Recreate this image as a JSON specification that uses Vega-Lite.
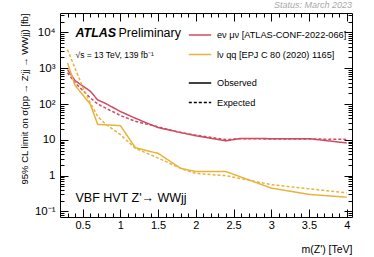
{
  "$schema": "https://vega.github.io/schema/vega-lite/v6.json",
  "width": 292,
  "height": 204,
  "autosize": {"type": "none"},
  "padding": {"left": 60, "top": 13, "right": 22, "bottom": 40},
  "title": {"text": "Status: March 2023", "anchor": "end", "frame": "group", "fontSize": 9, "fontStyle": "italic", "fontWeight": "normal", "color": "#a8a8a8", "offset": 3, "font": "Liberation Sans"},
  "config": {
    "font": "Liberation Sans",
    "view": {"stroke": "black", "strokeWidth": 1},
    "axis": {"grid": false, "domain": false, "tickColor": "black", "tickWidth": 1, "labelColor": "black", "titleColor": "black", "titleFontWeight": "normal", "labelFont": "Liberation Sans", "titleFont": "Liberation Sans"},
    "legend": {"padding": 0}
  },
  "datasets": {
    "limits": [
      {"m": 0.3, "limit": 920, "channel": "eν μν [ATLAS-CONF-2022-066]", "type": "Observed"},
      {"m": 0.4, "limit": 450, "channel": "eν μν [ATLAS-CONF-2022-066]", "type": "Observed"},
      {"m": 0.6, "limit": 230, "channel": "eν μν [ATLAS-CONF-2022-066]", "type": "Observed"},
      {"m": 0.7, "limit": 130, "channel": "eν μν [ATLAS-CONF-2022-066]", "type": "Observed"},
      {"m": 0.8, "limit": 105, "channel": "eν μν [ATLAS-CONF-2022-066]", "type": "Observed"},
      {"m": 1.0, "limit": 62, "channel": "eν μν [ATLAS-CONF-2022-066]", "type": "Observed"},
      {"m": 1.2, "limit": 40, "channel": "eν μν [ATLAS-CONF-2022-066]", "type": "Observed"},
      {"m": 1.5, "limit": 22, "channel": "eν μν [ATLAS-CONF-2022-066]", "type": "Observed"},
      {"m": 1.8, "limit": 16, "channel": "eν μν [ATLAS-CONF-2022-066]", "type": "Observed"},
      {"m": 2.0, "limit": 13, "channel": "eν μν [ATLAS-CONF-2022-066]", "type": "Observed"},
      {"m": 2.4, "limit": 9.4, "channel": "eν μν [ATLAS-CONF-2022-066]", "type": "Observed"},
      {"m": 2.6, "limit": 11, "channel": "eν μν [ATLAS-CONF-2022-066]", "type": "Observed"},
      {"m": 3.0, "limit": 10.8, "channel": "eν μν [ATLAS-CONF-2022-066]", "type": "Observed"},
      {"m": 3.5, "limit": 10.8, "channel": "eν μν [ATLAS-CONF-2022-066]", "type": "Observed"},
      {"m": 4.0, "limit": 8.2, "channel": "eν μν [ATLAS-CONF-2022-066]", "type": "Observed"},
      {"m": 0.3, "limit": 750, "channel": "eν μν [ATLAS-CONF-2022-066]", "type": "Expected"},
      {"m": 0.4, "limit": 390, "channel": "eν μν [ATLAS-CONF-2022-066]", "type": "Expected"},
      {"m": 0.6, "limit": 150, "channel": "eν μν [ATLAS-CONF-2022-066]", "type": "Expected"},
      {"m": 0.7, "limit": 100, "channel": "eν μν [ATLAS-CONF-2022-066]", "type": "Expected"},
      {"m": 0.8, "limit": 78, "channel": "eν μν [ATLAS-CONF-2022-066]", "type": "Expected"},
      {"m": 1.0, "limit": 48, "channel": "eν μν [ATLAS-CONF-2022-066]", "type": "Expected"},
      {"m": 1.2, "limit": 33, "channel": "eν μν [ATLAS-CONF-2022-066]", "type": "Expected"},
      {"m": 1.5, "limit": 23, "channel": "eν μν [ATLAS-CONF-2022-066]", "type": "Expected"},
      {"m": 1.8, "limit": 16, "channel": "eν μν [ATLAS-CONF-2022-066]", "type": "Expected"},
      {"m": 2.0, "limit": 13.5, "channel": "eν μν [ATLAS-CONF-2022-066]", "type": "Expected"},
      {"m": 2.4, "limit": 10.2, "channel": "eν μν [ATLAS-CONF-2022-066]", "type": "Expected"},
      {"m": 2.6, "limit": 10.8, "channel": "eν μν [ATLAS-CONF-2022-066]", "type": "Expected"},
      {"m": 3.0, "limit": 10.6, "channel": "eν μν [ATLAS-CONF-2022-066]", "type": "Expected"},
      {"m": 3.5, "limit": 10.6, "channel": "eν μν [ATLAS-CONF-2022-066]", "type": "Expected"},
      {"m": 4.0, "limit": 10.3, "channel": "eν μν [ATLAS-CONF-2022-066]", "type": "Expected"},
      {"m": 0.3, "limit": 1400, "channel": "lν qq [EPJ C 80 (2020) 1165]", "type": "Observed"},
      {"m": 0.4, "limit": 330, "channel": "lν qq [EPJ C 80 (2020) 1165]", "type": "Observed"},
      {"m": 0.6, "limit": 100, "channel": "lν qq [EPJ C 80 (2020) 1165]", "type": "Observed"},
      {"m": 0.7, "limit": 27, "channel": "lν qq [EPJ C 80 (2020) 1165]", "type": "Observed"},
      {"m": 1.0, "limit": 25, "channel": "lν qq [EPJ C 80 (2020) 1165]", "type": "Observed"},
      {"m": 1.2, "limit": 6.0, "channel": "lν qq [EPJ C 80 (2020) 1165]", "type": "Observed"},
      {"m": 1.5, "limit": 4.2, "channel": "lν qq [EPJ C 80 (2020) 1165]", "type": "Observed"},
      {"m": 1.8, "limit": 1.6, "channel": "lν qq [EPJ C 80 (2020) 1165]", "type": "Observed"},
      {"m": 2.0, "limit": 1.3, "channel": "lν qq [EPJ C 80 (2020) 1165]", "type": "Observed"},
      {"m": 2.4, "limit": 1.3, "channel": "lν qq [EPJ C 80 (2020) 1165]", "type": "Observed"},
      {"m": 3.0, "limit": 0.45, "channel": "lν qq [EPJ C 80 (2020) 1165]", "type": "Observed"},
      {"m": 3.5, "limit": 0.3, "channel": "lν qq [EPJ C 80 (2020) 1165]", "type": "Observed"},
      {"m": 4.0, "limit": 0.25, "channel": "lν qq [EPJ C 80 (2020) 1165]", "type": "Observed"},
      {"m": 0.3, "limit": 3300, "channel": "lν qq [EPJ C 80 (2020) 1165]", "type": "Expected"},
      {"m": 0.5, "limit": 300, "channel": "lν qq [EPJ C 80 (2020) 1165]", "type": "Expected"},
      {"m": 0.6, "limit": 110, "channel": "lν qq [EPJ C 80 (2020) 1165]", "type": "Expected"},
      {"m": 0.7, "limit": 45, "channel": "lν qq [EPJ C 80 (2020) 1165]", "type": "Expected"},
      {"m": 0.8, "limit": 28, "channel": "lν qq [EPJ C 80 (2020) 1165]", "type": "Expected"},
      {"m": 1.0, "limit": 14, "channel": "lν qq [EPJ C 80 (2020) 1165]", "type": "Expected"},
      {"m": 1.2, "limit": 5.8, "channel": "lν qq [EPJ C 80 (2020) 1165]", "type": "Expected"},
      {"m": 1.5, "limit": 3.1, "channel": "lν qq [EPJ C 80 (2020) 1165]", "type": "Expected"},
      {"m": 1.8, "limit": 1.6, "channel": "lν qq [EPJ C 80 (2020) 1165]", "type": "Expected"},
      {"m": 2.0, "limit": 1.15, "channel": "lν qq [EPJ C 80 (2020) 1165]", "type": "Expected"},
      {"m": 2.4, "limit": 1.0, "channel": "lν qq [EPJ C 80 (2020) 1165]", "type": "Expected"},
      {"m": 3.0, "limit": 0.56, "channel": "lν qq [EPJ C 80 (2020) 1165]", "type": "Expected"},
      {"m": 3.5, "limit": 0.43, "channel": "lν qq [EPJ C 80 (2020) 1165]", "type": "Expected"},
      {"m": 4.0, "limit": 0.33, "channel": "lν qq [EPJ C 80 (2020) 1165]", "type": "Expected"}
    ]
  },
  "data": {"name": "limits"},
  "layer": [
    {
      "mark": {"type": "line", "strokeWidth": 1.5},
      "encoding": {
        "x": {"field": "m", "type": "quantitative", "scale": {"domain": [0.2, 4.07], "nice": false, "zero": false},
              "axis": {"orient": "bottom", "values": [0.5, 1, 1.5, 2, 2.5, 3, 3.5, 4], "format": ".2~f", "tickSize": -8, "labelFontSize": 11, "labelPadding": 10, "labelFlush": false, "title": "m(Z') [TeV]", "titleAnchor": "end", "titleFontSize": 10.5, "titleY": 27, "titleBaseline": "top"}},
        "y": {"field": "limit", "type": "quantitative", "scale": {"type": "log", "domain": [0.07, 35000], "nice": false},
              "axis": {"orient": "left", "values": [0.1, 1, 10, 100, 1000, 10000], "labelExpr": "datum.value < 0.5 ? '10⁻¹' : datum.value < 5 ? '1' : datum.value < 50 ? '10' : datum.value < 500 ? '10²' : datum.value < 5000 ? '10³' : '10⁴'", "tickSize": -8, "labelFontSize": 11.5, "labelPadding": 13, "title": "95% CL limit on σ(pp → Z'jj → WWjj) [fb]", "titleAnchor": "end", "titleFontSize": 9.5, "titleX": -31, "titleBaseline": "bottom"}},
        "color": {"field": "channel", "type": "nominal", "scale": {"domain": ["eν μν [ATLAS-CONF-2022-066]", "lν qq [EPJ C 80 (2020) 1165]"], "range": ["#d14a5f", "#e8b33c"]},
                  "legend": {"orient": "none", "legendX": 128, "legendY": 10, "title": null, "symbolType": "stroke", "symbolSize": 500, "symbolStrokeWidth": 1.5, "labelFontSize": 9.2, "labelOffset": 5, "rowPadding": 1.5, "labelColor": "black"}},
        "strokeDash": {"field": "type", "type": "nominal", "scale": {"domain": ["Observed", "Expected"], "range": [[1, 0], [3, 2]]},
                  "legend": {"orient": "none", "legendX": 128, "legendY": 58, "title": null, "symbolType": "stroke", "symbolSize": 500, "symbolStrokeWidth": 1.5, "symbolStrokeColor": "black", "labelFontSize": 9.2, "labelOffset": 5, "rowPadding": 1.5, "labelColor": "black"}}
      }
    },
    {
      "mark": {"type": "line", "opacity": 0},
      "encoding": {
        "x": {"field": "m", "type": "quantitative", "axis": {"orient": "bottom", "values": [0.3, 0.4, 0.6, 0.7, 0.8, 0.9, 1.1, 1.2, 1.3, 1.4, 1.6, 1.7, 1.8, 1.9, 2.1, 2.2, 2.3, 2.4, 2.6, 2.7, 2.8, 2.9, 3.1, 3.2, 3.3, 3.4, 3.6, 3.7, 3.8, 3.9], "tickSize": -4, "labels": false, "title": null}},
        "y": {"field": "limit", "type": "quantitative", "axis": {"orient": "left", "values": [0.08, 0.09, 0.2, 0.3, 0.4, 0.5, 0.6, 0.7, 0.8, 0.9, 2, 3, 4, 5, 6, 7, 8, 9, 20, 30, 40, 50, 60, 70, 80, 90, 200, 300, 400, 500, 600, 700, 800, 900, 2000, 3000, 4000, 5000, 6000, 7000, 8000, 9000, 20000, 30000], "tickSize": -4, "labels": false, "title": null}}
      }
    },
    {
      "mark": {"type": "line", "opacity": 0},
      "encoding": {
        "x": {"field": "m", "type": "quantitative", "axis": {"orient": "top", "values": [0.5, 1, 1.5, 2, 2.5, 3, 3.5, 4], "tickSize": -8, "labels": false, "title": null}},
        "y": {"field": "limit", "type": "quantitative", "axis": {"orient": "right", "values": [0.1, 1, 10, 100, 1000, 10000], "tickSize": -8, "labels": false, "title": null}}
      }
    },
    {
      "mark": {"type": "line", "opacity": 0},
      "encoding": {
        "x": {"field": "m", "type": "quantitative", "axis": {"orient": "top", "values": [0.3, 0.4, 0.6, 0.7, 0.8, 0.9, 1.1, 1.2, 1.3, 1.4, 1.6, 1.7, 1.8, 1.9, 2.1, 2.2, 2.3, 2.4, 2.6, 2.7, 2.8, 2.9, 3.1, 3.2, 3.3, 3.4, 3.6, 3.7, 3.8, 3.9], "tickSize": -4, "labels": false, "title": null}},
        "y": {"field": "limit", "type": "quantitative", "axis": {"orient": "right", "values": [0.08, 0.09, 0.2, 0.3, 0.4, 0.5, 0.6, 0.7, 0.8, 0.9, 2, 3, 4, 5, 6, 7, 8, 9, 20, 30, 40, 50, 60, 70, 80, 90, 200, 300, 400, 500, 600, 700, 800, 900, 2000, 3000, 4000, 5000, 6000, 7000, 8000, 9000, 20000, 30000], "tickSize": -4, "labels": false, "title": null}}
      }
    },
    {
      "data": {"values": [{"label": "ATLAS"}]},
      "mark": {"type": "text", "align": "left", "baseline": "alphabetic", "fontSize": 12.5, "fontWeight": "bold", "fontStyle": "italic", "color": "black"},
      "encoding": {"x": {"datum": 0.405, "type": "quantitative", "axis": null}, "y": {"datum": 7600, "type": "quantitative", "axis": null}, "text": {"field": "label"}}
    },
    {
      "data": {"values": [{"label": "Preliminary"}]},
      "mark": {"type": "text", "align": "left", "baseline": "alphabetic", "fontSize": 12.5, "color": "black"},
      "encoding": {"x": {"datum": 0.975, "type": "quantitative", "axis": null}, "y": {"datum": 7600, "type": "quantitative", "axis": null}, "text": {"field": "label"}}
    },
    {
      "data": {"values": [{"label": "√s = 13 TeV, 139 fb⁻¹"}]},
      "mark": {"type": "text", "align": "left", "baseline": "alphabetic", "fontSize": 8.5, "color": "black"},
      "encoding": {"x": {"datum": 0.405, "type": "quantitative", "axis": null}, "y": {"datum": 1950, "type": "quantitative", "axis": null}, "text": {"field": "label"}}
    },
    {
      "data": {"values": [{"label": "VBF HVT Z'→ WWjj"}]},
      "mark": {"type": "text", "align": "left", "baseline": "alphabetic", "fontSize": 12.5, "color": "black"},
      "encoding": {"x": {"datum": 0.405, "type": "quantitative", "axis": null}, "y": {"datum": 0.18, "type": "quantitative", "axis": null}, "text": {"field": "label"}}
    }
  ],
  "resolve": {"axis": {"x": "independent", "y": "independent"}}
}
